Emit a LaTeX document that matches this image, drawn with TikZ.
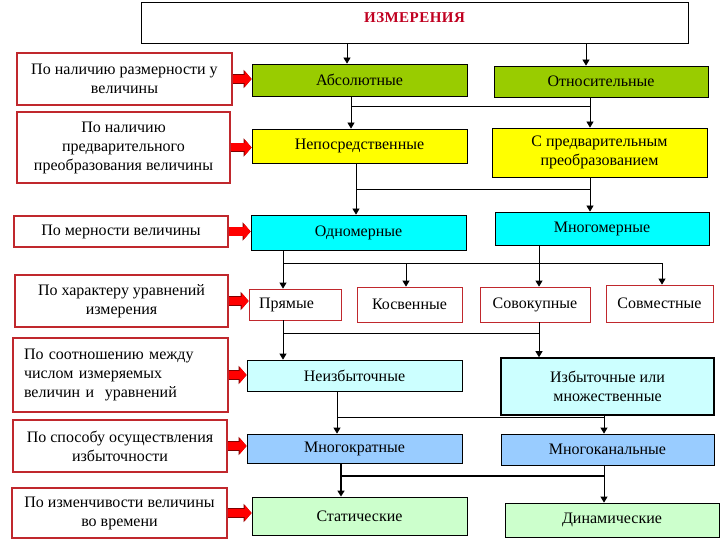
\documentclass[tikz,border=0pt]{standalone}
\usepackage{fontspec}
\setmainfont{Liberation Serif}
\usetikzlibrary{arrows.meta, positioning}
\definecolor{titleRed}{HTML}{C00020}
\definecolor{catRed}{HTML}{C0282D}
\definecolor{absGreen}{HTML}{99CC00}
\definecolor{preYellow}{HTML}{FFFF00}
\definecolor{dimCyan}{HTML}{00FFFF}
\definecolor{redCyan}{HTML}{CCFFFF}
\definecolor{wayBlue}{HTML}{99CCFF}
\definecolor{timeGreen}{HTML}{CCFFCC}
\tikzset{
  catbox/.style={draw=catRed, line width=1.2pt, fill=white, align=center, font=\fontsize{16}{19}\selectfont, inner sep=3pt},
  kindbox/.style={draw=black, line width=0.8pt, align=center, font=\fontsize{16}{19}\selectfont, inner sep=2pt},
  eqbox/.style={kindbox, draw=catRed, fill=white},
  flowarr/.style={-{Triangle[length=6pt,width=7pt]}, line width=0.8pt},
  sidearr/.style={-{Triangle[length=7pt,width=16pt]}, line width=8pt, red,
    preaction={draw=red!50!black, line width=9.6pt, -{Triangle[length=8pt,width=18pt]}}},
}

\begin{document}
\begin{tikzpicture}[x=1pt, y=-1pt]
  \useasboundingbox (0,0) rectangle (720,540);
  \node[draw, line width=0.8pt, minimum width=547pt, minimum height=41pt, inner sep=8pt,
    text height=13pt, text depth=12pt, font=\bfseries\fontsize{15}{17}\selectfont\addfontfeatures{LetterSpace=3}, text=titleRed] (title) at (414.5,22.5) {ИЗМЕРЕНИЯ};

  % criteria on the left
  \node[catbox, minimum width=215pt, minimum height=52pt] (c1) at (124.5,79) {По наличию размерности у\\величины};
  \node[catbox, minimum width=213pt, minimum height=71pt] (c2) at (123.5,147.5) {По наличию\\предварительного\\преобразования величины};
  \node[catbox, minimum width=214pt, minimum height=31pt] (c3) at (121,231.5) {По мерности величины};
  \node[catbox, minimum width=213pt, minimum height=52pt] (c4) at (121.5,301) {По характеру уравнений\\измерения};
  \node[catbox, minimum width=215pt, minimum height=74pt, align=left, text width=193pt] (c5) at (120.5,375) {По соотношению между\\числом измеряемых\\величин и~~уравнений};
  \node[catbox, minimum width=214pt, minimum height=52pt] (c6) at (120,446) {По способу осуществления\\избыточности};
  \node[catbox, minimum width=215pt, minimum height=50pt] (c7) at (119.5,513) {По изменчивости величины\\во времени};

  % kinds of measurement
  \node[kindbox, fill=absGreen, minimum width=215pt, minimum height=32pt] (abs) at (359.5,80) {Абсолютные};
  \node[kindbox, fill=absGreen, minimum width=214pt, minimum height=31pt] (otn) at (601,81.5) {Относительные};
  \node[kindbox, fill=preYellow, minimum width=215pt, minimum height=34pt] (nep) at (359.5,146) {Непосредственные};
  \node[kindbox, fill=preYellow, minimum width=215pt, minimum height=49pt] (spr) at (599.5,152.5) {С предварительным\\преобразованием};
  \node[kindbox, fill=dimCyan, minimum width=215pt, minimum height=35pt] (odn) at (358.5,232.5) {Одномерные};
  \node[kindbox, fill=dimCyan, minimum width=214pt, minimum height=33pt] (mng) at (602,228.5) {Многомерные};
  \node[eqbox, minimum width=92pt, minimum height=31pt, align=left, text width=72pt] (prm) at (295,304.5) {Прямые};
  \node[eqbox, minimum width=105pt, minimum height=35pt] (ksv) at (409.5,304.5) {Косвенные};
  \node[eqbox, minimum width=110pt, minimum height=35pt] (svk) at (535,304.5) {Совокупные};
  \node[eqbox, minimum width=107pt, minimum height=37pt] (svm) at (659.5,303.5) {Совместные};
  \node[kindbox, fill=redCyan, minimum width=215pt, minimum height=31pt] (nizb) at (354.5,375.5) {Неизбыточные};
  \node[kindbox, fill=redCyan, line width=1.6pt, minimum width=213pt, minimum height=57pt] (izb) at (607.5,386.5) {Избыточные или\\множественные};
  \node[kindbox, fill=wayBlue, minimum width=215pt, minimum height=29pt] (mkr) at (354.5,448.5) {Многократные};
  \node[kindbox, fill=wayBlue, minimum width=213pt, minimum height=31pt] (mkn) at (607.5,449.5) {Многоканальные};
  \node[kindbox, fill=timeGreen, minimum width=215pt, minimum height=38pt] (stat) at (359.5,516) {Статические};
  \node[kindbox, fill=timeGreen, minimum width=214pt, minimum height=34pt] (din) at (612,520) {Динамические};

  % red arrows from criteria
  \foreach \c/\k in {c1/abs, c2/nep, c3/odn, c4/prm, c5/nizb, c6/mkr, c7/stat}
    \draw[sidearr] (\c.east) -- (\c.east -| \k.west);

  % connector lines
  \coordinate (t1) at (347,50); \coordinate (t2) at (586,50);
  \draw[flowarr] (title.south -| t1) -- (abs.north -| t1);
  \draw[flowarr] (title.south -| t2) -- (otn.north -| t2);

  \coordinate (k1) at (351,106); \coordinate (k2) at (590,106);
  \draw (abs.south -| k1) -- (k1) -- (k2) -- (otn.south -| k2);
  \draw[flowarr] (k1) -- (nep.north -| k1);
  \draw[flowarr] (k2) -- (spr.north -| k2);

  \coordinate (k3) at (356,189); \coordinate (k4) at (590,189);
  \draw (nep.south -| k3) -- (k3) -- (k4) -- (spr.south -| k4);
  \draw[flowarr] (k3) -- (odn.north -| k3);
  \draw[flowarr] (k4) -- (mng.north -| k4);

  \coordinate (k5) at (283,263); \coordinate (k6) at (406,263);
  \coordinate (k7) at (539,263); \coordinate (k8) at (662,263);
  \draw (odn.south -| k5) -- (k5) -- (k8);
  \draw (mng.south -| k7) -- (k7);
  \foreach \k/\n in {k5/prm, k6/ksv, k7/svk, k8/svm}
    \draw[flowarr] (\k) -- (\n.north -| \k);

  \coordinate (k9) at (283,333); \coordinate (k10) at (539,333);
  \draw (prm.south -| k9) -- (k9) -- (k10) -- (svk.south -| k10);
  \draw[flowarr] (k9) -- (nizb.north -| k9);
  \draw[flowarr] (k10) -- (izb.north -| k10);

  \coordinate (k11) at (337,417); \coordinate (k12) at (604,417);
  \draw (nizb.south -| k11) -- (k11) -- (k12) -- (izb.south -| k12);
  \draw[flowarr] (k11) -- (mkr.north -| k11);
  \draw[flowarr] (k12) -- (mkn.north -| k12);

  \coordinate (k13) at (341,476); \coordinate (k14) at (604,476);
  \draw[line width=2pt] (mkr.south -| k13) -- (k13) -- (k14);
  \draw (mkn.south -| k14) -- (k14);
  \draw[flowarr, line width=2pt] (k13) -- (stat.north -| k13);
  \draw[flowarr] (k14) -- (din.north -| k14);
\end{tikzpicture}
\end{document}
